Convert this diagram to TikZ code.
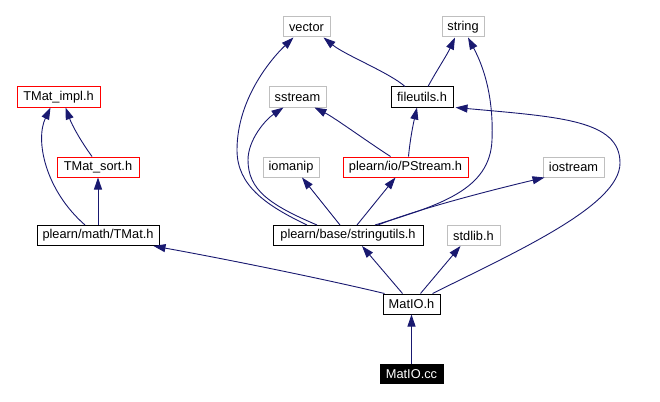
\documentclass[tikz,border=0pt]{standalone}
\usepackage{fontspec}
\setmainfont{Liberation Sans}
\usetikzlibrary{arrows.meta}
\definecolor{edgecol}{RGB}{25,25,112}
\definecolor{greybd}{RGB}{191,191,191}
\definecolor{redbd}{RGB}{255,0,0}
\tikzset{
  box/.style={draw, line width=1pt, inner sep=0pt, minimum height=20pt, font=\fontsize{12.8}{14}\selectfont, anchor=center},
  blackbox/.style={box, draw=black},
  greybox/.style={box, draw=greybd},
  redbox/.style={box, draw=redbd},
  rootbox/.style={box, draw=black, fill=black, text=white},
  e/.style={draw=edgecol, line width=0.9pt, -{Triangle[length=12pt,width=8pt]}},
}
\begin{document}
\begin{tikzpicture}[x=1pt,y=-1pt]
\useasboundingbox (0,0) rectangle (660,401);
\node[greybox, minimum width=47pt] (vector) at (306.5,27) {vector};
\node[greybox, minimum width=42pt] (string) at (463,27) {string};
\node[redbox, minimum width=83pt] (impl) at (58.5,97) {TMat\_impl.h};
\node[greybox, minimum width=57pt] (ss) at (297.5,97) {sstream};
\node[blackbox, minimum width=62pt] (fu) at (422,97) {fileutils.h};
\node[redbox, minimum width=82pt] (sort) at (98,167) {TMat\_sort.h};
\node[greybox, minimum width=56pt] (iom) at (291,167) {iomanip};
\node[redbox, minimum width=125pt] (ps) at (405.5,167) {plearn/io/PStream.h};
\node[greybox, minimum width=61pt] (ios) at (573.5,167) {iostream};
\node[blackbox, minimum width=122pt] (tmat) at (98,235.5) {plearn/math/TMat.h};
\node[blackbox, minimum width=150pt] (su) at (348,235.5) {plearn/base/stringutils.h};
\node[greybox, minimum width=53pt] (std) at (473.5,235.5) {stdlib.h};
\node[blackbox, minimum width=57pt] (h) at (411.5,304) {MatIO.h};
\node[rootbox, minimum width=63pt, minimum height=19pt] (cc) at (411.5,374) {MatIO.cc};

\draw[e] (cc) -- (h);
\draw[e] ([xshift=2pt]h.north west) .. controls (320,278) and (220,258) .. ([xshift=-6pt]tmat.south east);
\draw[e] ([xshift=-9pt]h.north) -- ([xshift=14pt]su.south);
\draw[e] ([xshift=9pt]h.north) -- ([xshift=-13pt]std.south);
\draw[e] ([xshift=-8pt]h.north east) .. controls (520,250) and (620,205) .. (620,163) .. controls (620,120) and (560,117) .. ([xshift=2pt]fu.south east);
\draw[e] ([xshift=-13pt]tmat.north) .. controls (45,190) and (35,140) .. ([xshift=-8pt]impl.south);
\draw[e] (tmat) -- (sort);
\draw[e] ([xshift=-6pt]sort.north) .. controls (80,140) and (72,125) .. ([xshift=7pt]impl.south);
\draw[e] ([xshift=-41pt]su.north) .. controls (265,205) and (237,185) .. (237,150) .. controls (237,100) and (270,60) .. ([xshift=-13pt]vector.south);
\draw[e] ([xshift=-31pt]su.north) .. controls (270,205) and (248,190) .. (248,160) .. controls (248,140) and (265,120) .. ([xshift=-14pt]ss.south);
\draw[e] ([xshift=-8pt]su.north) -- ([xshift=11pt]iom.south);
\draw[e] ([xshift=9pt]su.north) -- ([xshift=-10pt]ps.south);
\draw[e] ([xshift=30pt]su.north) .. controls (420,208) and (500,188) .. ([xshift=2pt]ios.south west);
\draw[e] ([xshift=27pt]su.north) .. controls (440,205) and (490,190) .. (492,140) .. controls (494,90) and (480,60) .. ([xshift=5pt]string.south);
\draw[e] ([xshift=-15pt]ps.north) .. controls (365,140) and (335,118) .. ([xshift=-12pt]ss.south east);
\draw[e] ([xshift=3pt]ps.north) .. controls (410,140) and (413,125) .. ([xshift=-5pt]fu.south);
\draw[e] ([xshift=-17pt]fu.north) .. controls (390,73) and (345,55) .. ([xshift=-7pt]vector.south east);
\draw[e] ([xshift=6pt]fu.north) .. controls (437,70) and (447,55) .. ([xshift=-8pt]string.south);
\end{tikzpicture}
\end{document}
